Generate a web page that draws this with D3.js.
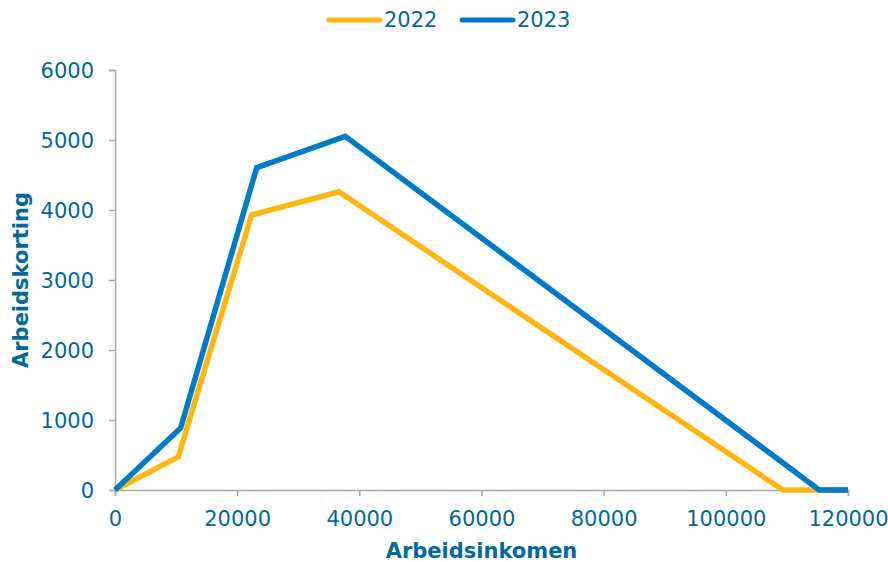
<!DOCTYPE html>
<html>
<head>
<meta charset="utf-8">
<script src="https://cdn.jsdelivr.net/npm/d3@7"></script>
<style>
  body { margin: 0; background: #fff; }
  svg text { font-family: "DejaVu Sans", Verdana, sans-serif; fill: #01689b; }
</style>
</head>
<body>
<svg id="chart" width="888" height="562"></svg>
<script>
// data: arbeidskorting per inkomen
let series = ["2022", "2023"];
let inkomen2022 = [0, 10351, 22357, 36650, 109347, 120000];
let korting2022 = [0, 474, 3928, 4260, 0, 0];
let inkomen2023 = [0, 10741, 23201, 37691, 115295, 120000];
let korting2023 = [0, 884, 4605, 5052, 0, 0];
let xTicks = [0, 20000, 40000, 60000, 80000, 100000, 120000];
let yTicks = [0, 1000, 2000, 3000, 4000, 5000, 6000];

let colors = { "2022": "#ffb612", "2023": "#007bc7" };

let margin = { top: 70, right: 40, bottom: 72, left: 115 };
let W = 888, H = 562;
let width = W - margin.left - margin.right;
let height = H - margin.top - margin.bottom;
let fontSize = 21;

let svg = d3.select("#chart");
let g = svg.append("g")
  .attr("transform", `translate(${margin.left},${margin.top})`);

//scales
let xScale = d3.scaleLinear().domain([0, 120000]).range([0, width]);
let yScale = d3.scaleLinear().domain([0, 6000]).range([height, 0]);

//axes
let xAxis = g.append("g")
  .attr("transform", `translate(0,${height})`)
  .call(d3.axisBottom(xScale).tickValues(xTicks).tickFormat(d3.format("d")).tickSize(6).tickPadding(15));

let yAxis = g.append("g")
  .call(d3.axisLeft(yScale).tickValues(yTicks).tickFormat(d3.format("d")).tickSize(6).tickPadding(15));

[xAxis, yAxis].forEach(a => {
  a.selectAll("path, line").attr("stroke", "#a6a6a6").attr("stroke-width", 1.5);
  a.selectAll("text").attr("font-size", fontSize).attr("fill", "#01689b");
});
yAxis.selectAll("text").attr("dy", "0.35em");

//axis titles
svg.append("text")
  .attr("x", margin.left + width / 2)
  .attr("y", 558)
  .attr("text-anchor", "middle")
  .attr("font-size", fontSize)
  .attr("font-weight", "bold")
  .text("Arbeidsinkomen");

svg.append("text")
  .attr("transform", `translate(28,${margin.top + height / 2}) rotate(-90)`)
  .attr("text-anchor", "middle")
  .attr("font-size", fontSize)
  .attr("font-weight", "bold")
  .text("Arbeidskorting");

//lines
let line = d3.line()
  .x(d => xScale(d[0]))
  .y(d => yScale(d[1]));

let data = {
  "2022": d3.zip(inkomen2022, korting2022),
  "2023": d3.zip(inkomen2023, korting2023)
};

series.forEach(s => {
  g.append("path")
    .datum(data[s])
    .attr("fill", "none")
    .attr("stroke", colors[s])
    .attr("stroke-width", 5.5)
    .attr("stroke-linejoin", "miter")
    .attr("d", line);
});

//legend
let legend = svg.append("g");
let legX = [327, 460];
series.forEach((s, i) => {
  legend.append("line")
    .attr("x1", legX[i] + 2)
    .attr("x2", legX[i] + 53)
    .attr("y1", 20)
    .attr("y2", 20)
    .attr("stroke", colors[s])
    .attr("stroke-width", 5)
    .attr("stroke-linecap", "round");
  legend.append("text")
    .attr("x", legX[i] + 57)
    .attr("y", 20)
    .attr("dy", "0.35em")
    .attr("font-size", fontSize)
    .text(s);
});
</script>
</body>
</html>
